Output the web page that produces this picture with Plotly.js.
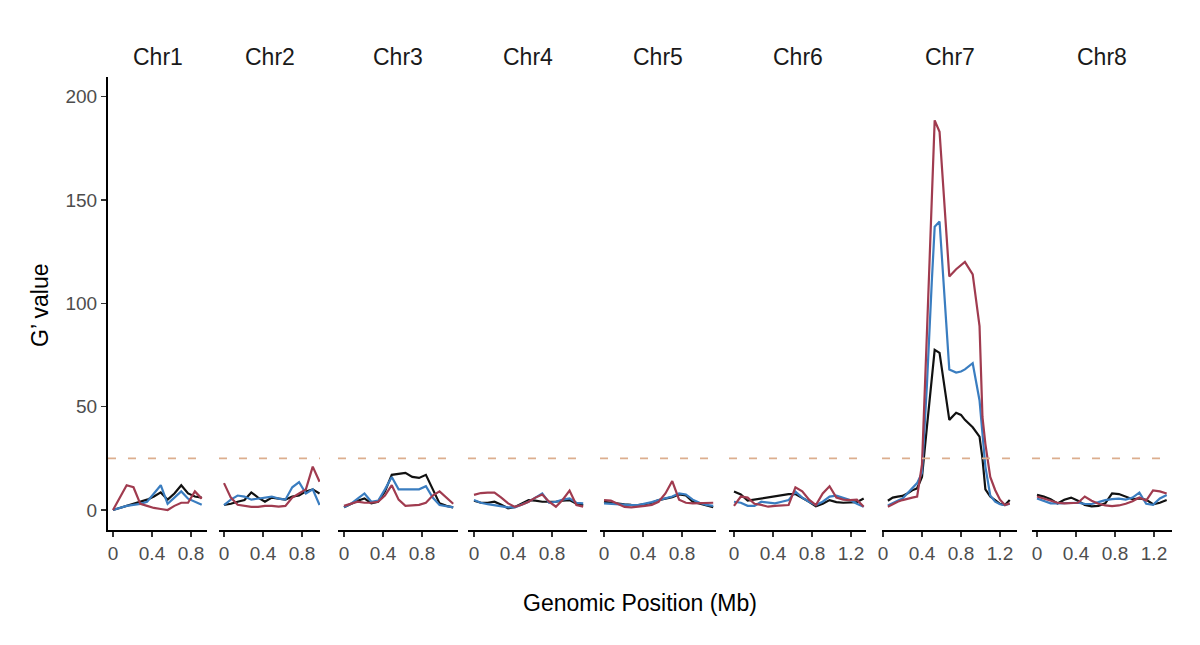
<!DOCTYPE html>
<html>
<head>
<meta charset="utf-8">
<script src="https://cdn.plot.ly/plotly-3.0.1.min.js"></script>
<style>
  html, body { margin: 0; padding: 0; background: #fff; }
  #myDiv { width: 1200px; height: 645px; }
</style>
</head>
<body>
<div id="myDiv"></div>
<script>
// chromosome names and the G' threshold (dashed line)
var chrNames = ['Chr1', 'Chr2', 'Chr3', 'Chr4', 'Chr5', 'Chr6', 'Chr7', 'Chr8'];
var threshold = 25;
var tickValues = [0, 0.4, 0.8, 1.2];

// positions (Mb) per chromosome
var posChr1 = [0, 0.07, 0.14, 0.21, 0.28, 0.35, 0.42, 0.49, 0.56, 0.63, 0.70, 0.77, 0.84, 0.91];
var posChr2 = [0, 0.07, 0.14, 0.21, 0.28, 0.35, 0.42, 0.49, 0.56, 0.63, 0.70, 0.77, 0.84, 0.91, 0.98];
var posChr3 = [0, 0.07, 0.14, 0.21, 0.28, 0.35, 0.42, 0.49, 0.56, 0.63, 0.70, 0.77, 0.84, 0.91, 0.98, 1.05, 1.12];
var posChr4 = [0, 0.07, 0.14, 0.21, 0.28, 0.35, 0.42, 0.49, 0.56, 0.63, 0.70, 0.77, 0.84, 0.91, 0.98, 1.05, 1.12];
var posChr5 = [0, 0.07, 0.14, 0.21, 0.28, 0.35, 0.42, 0.49, 0.56, 0.63, 0.70, 0.77, 0.84, 0.91, 0.98, 1.05, 1.12];
var posChr6 = [0, 0.07, 0.14, 0.21, 0.28, 0.35, 0.42, 0.49, 0.56, 0.63, 0.70, 0.77, 0.84, 0.91, 0.98, 1.05, 1.12, 1.19, 1.26, 1.33];
var posChr7 = [0.05, 0.10, 0.15, 0.20, 0.25, 0.30, 0.35, 0.40, 0.45, 0.50, 0.53, 0.58, 0.65, 0.68, 0.75, 0.80, 0.84, 0.92, 0.99, 1.02, 1.05, 1.10, 1.15, 1.20, 1.25, 1.30];
var posChr8 = [0, 0.07, 0.14, 0.21, 0.28, 0.35, 0.42, 0.49, 0.56, 0.63, 0.70, 0.77, 0.84, 0.91, 0.98, 1.05, 1.12, 1.19, 1.26, 1.33];

// black series
var blackChr1 = [0, 1, 2, 3, 4, 5, 6.5, 8.5, 5, 8, 12, 8, 6.5, 6];
var blackChr2 = [2.4, 3, 4, 4.8, 8.5, 6, 4, 6, 5.5, 5, 6.5, 7, 9, 10, 8];
var blackChr3 = [1.3, 3, 4.5, 5.6, 3.2, 4, 9, 17, 17.5, 18, 16, 15.5, 17, 10, 3.2, 2, 1.3];
var blackChr4 = [4.5, 3.5, 3.5, 4, 2.5, 0.8, 1.5, 3, 4.8, 4.5, 4, 4, 4, 4.5, 4.8, 3, 2.4];
var blackChr5 = [4, 3.5, 3, 2.7, 2.5, 2.4, 2.8, 3.5, 4.8, 5.5, 6.2, 7.5, 7, 4, 3, 2, 1.3];
var blackChr6 = [8.9, 7.5, 4.5, 5, 5.6, 6, 6.5, 7, 7.7, 7.7, 6, 4, 1.8, 3, 4.8, 3.8, 3.5, 3.5, 3.8, 5.6];
var blackChr7 = [4.5, 6, 6.5, 6.8, 8, 9.5, 10.5, 16, 40, 65, 77.5, 76, 52, 43.6, 47, 46, 43.6, 40, 35.5, 25, 10, 6.5, 4.8, 3, 2.4, 4.8];
var blackChr8 = [7.3, 6.5, 5.2, 3.2, 5, 6, 4.5, 2.4, 1.8, 2, 3.2, 8, 7.7, 6.5, 5.2, 5.6, 5, 2.8, 3.5, 4.8];

// blue series
var blueChr1 = [0, 1, 2, 2.5, 3, 4, 8, 12, 3, 6, 9, 5.5, 4, 2.5];
var blueChr2 = [2.4, 5, 7, 6.5, 5, 5.5, 6, 6.5, 5.5, 5, 11, 13.5, 8, 10, 2.4];
var blueChr3 = [1.3, 3, 5.5, 8, 4, 4.5, 10, 16, 10, 10, 10, 10, 11.5, 6, 2.4, 2, 1.3];
var blueChr4 = [4.8, 3.5, 2.8, 2.2, 1.8, 1.3, 1.3, 2.5, 4, 6, 8, 3.5, 4, 5, 5.6, 3.5, 3.2];
var blueChr5 = [3.2, 3, 2.5, 2.4, 2.4, 2.4, 3, 3.8, 4.8, 5.8, 6.5, 8, 7.5, 5, 3.5, 2.5, 2];
var blueChr6 = [4, 3.5, 2, 2, 4, 3.5, 3.2, 4, 4.8, 8.9, 6, 4, 2.4, 4, 6.5, 6.9, 6, 4.8, 3, 1.6];
var blueChr7 = [2.2, 3.5, 4.5, 5.5, 8, 10.5, 13, 18, 60, 110, 137, 139.6, 90, 68, 66.5, 67, 68, 71, 53, 35, 21, 7, 4, 2.8, 2.4, 3];
var blueChr8 = [5.6, 4.5, 3.2, 3.2, 3.2, 3.4, 3.5, 3, 2.9, 3.8, 4.8, 5.3, 5.5, 5, 6, 8.4, 3, 2.5, 5.6, 7.3];

// red series
var redChr1 = [0, 6, 12, 11, 3, 2, 1, 0.5, 0, 2, 3.5, 3.5, 9, 5.5];
var redChr2 = [13, 6, 2.5, 2, 1.5, 1.5, 2, 2, 1.6, 2, 6, 8, 10, 21, 13.7];
var redChr3 = [2, 3, 4, 3.5, 3.5, 4, 7, 12, 5, 2, 2.2, 2.5, 3.5, 7, 9, 6, 3];
var redChr4 = [7.3, 8.2, 8.4, 8.4, 6, 3.2, 1.5, 2.5, 4, 6, 7.5, 4, 1.6, 5, 9.4, 2.4, 1.6];
var redChr5 = [4.8, 4.5, 3, 1.5, 1.3, 1.5, 2, 2.5, 4, 8, 14, 5, 3.5, 3.2, 3.2, 3.3, 3.5];
var redChr6 = [2, 6.5, 6, 3, 2.5, 1.6, 2, 2.2, 2.4, 11, 9, 5, 2.4, 8, 11.5, 6, 5, 4.8, 5, 1.6];
var redChr7 = [1.6, 3, 4, 4.8, 5.5, 6, 6.5, 22, 85, 150, 188.5, 183, 134, 113, 116.5, 118.5, 120, 114, 89, 45, 32, 16, 9.7, 5, 2.4, 3.2];
var redChr8 = [6.5, 5.5, 4.8, 3.5, 3.2, 3.2, 3.5, 6.5, 4.5, 3, 2.2, 1.9, 2.2, 3, 4.2, 6, 4.5, 9.5, 9, 8];

var positions = [posChr1, posChr2, posChr3, posChr4, posChr5, posChr6, posChr7, posChr8];
var blackVals = [blackChr1, blackChr2, blackChr3, blackChr4, blackChr5, blackChr6, blackChr7, blackChr8];
var blueVals = [blueChr1, blueChr2, blueChr3, blueChr4, blueChr5, blueChr6, blueChr7, blueChr8];
var redVals = [redChr1, redChr2, redChr3, redChr4, redChr5, redChr6, redChr7, redChr8];

// panel layout in pixels: left edge, right edge, where x = 0 sits
var W = 1200, H = 645;
var pxPerMb = 97.5;
var panelLeft = [108, 219, 338, 468, 600, 729, 882, 1032];
var panelRight = [207, 320, 458, 587, 716, 866, 1017, 1172];
var panelZero = [113, 224, 344, 474, 604, 734, 883, 1037];
var plotTop = 77, plotBottom = 530, yZero = 510, pxPerUnit = 2.067;

var font = 'Liberation Sans, Arial, sans-serif';
var data = [];
var shapes = [];
var annotations = [];
var layout = {
    width: W,
    height: H,
    margin: {l: 0, r: 0, t: 0, b: 0},
    paper_bgcolor: '#fff',
    plot_bgcolor: 'rgba(0,0,0,0)',
    showlegend: false,
    font: {family: font}
};

layout.yaxis = {
    domain: [(H - plotBottom) / H, (H - plotTop) / H],
    range: [(yZero - plotBottom) / pxPerUnit, (yZero - plotTop) / pxPerUnit],
    anchor: 'x',
    tickvals: [0, 50, 100, 150, 200],
    showline: true,
    linecolor: '#000',
    linewidth: 2,
    ticks: 'outside',
    ticklen: 5,
    tickwidth: 1.5,
    tickcolor: '#333',
    tickfont: {size: 19, color: '#4d4d4d', family: font},
    showgrid: false,
    zeroline: false
};

for (let i = 0; i < chrNames.length; i++) {
    var ax = i === 0 ? 'x' : 'x' + (i + 1);
    var axKey = i === 0 ? 'xaxis' : 'xaxis' + (i + 1);
    var lo = (panelLeft[i] - panelZero[i]) / pxPerMb;
    var hi = (panelRight[i] - panelZero[i]) / pxPerMb;

    layout[axKey] = {
        domain: [panelLeft[i] / W, panelRight[i] / W],
        range: [lo, hi],
        anchor: 'y',
        tickvals: tickValues.filter(function (t) { return t <= hi; }),
        showline: true,
        linecolor: '#000',
        linewidth: 2,
        ticks: 'outside',
        ticklen: 5,
        tickwidth: 1.5,
        tickcolor: '#333',
        tickfont: {size: 19, color: '#4d4d4d', family: font},
        showgrid: false,
        zeroline: false
    };

    shapes.push({
        type: 'line', xref: ax, yref: 'y',
        x0: lo, x1: hi, y0: threshold, y1: threshold,
        line: {color: '#dcae8e', width: 1.6, dash: '8px,12px'}
    });

    data.push({type: 'scatter', mode: 'lines', x: positions[i], y: blackVals[i],
        xaxis: ax, yaxis: 'y', name: 'black', line: {color: '#111111', width: 2.2}});
    data.push({type: 'scatter', mode: 'lines', x: positions[i], y: blueVals[i],
        xaxis: ax, yaxis: 'y', name: 'blue', line: {color: '#3a7dc0', width: 2.2}});
    data.push({type: 'scatter', mode: 'lines', x: positions[i], y: redVals[i],
        xaxis: ax, yaxis: 'y', name: 'red', line: {color: '#a03b4f', width: 2.2}});

    annotations.push({
        xref: 'paper', yref: 'paper', xanchor: 'center', yanchor: 'middle',
        x: (panelLeft[i] + panelRight[i]) / 2 / W, y: (H - 57) / H,
        text: chrNames[i], showarrow: false,
        font: {size: 23, color: '#1a1a1a', family: font}
    });
}

annotations.push({
    xref: 'paper', yref: 'paper', xanchor: 'center', yanchor: 'middle',
    x: 640 / W, y: (H - 603) / H,
    text: 'Genomic Position (Mb)', showarrow: false,
    font: {size: 23, color: '#000', family: font}
});
annotations.push({
    xref: 'paper', yref: 'paper', xanchor: 'center', yanchor: 'middle',
    x: 40 / W, y: (H - 305) / H,
    text: 'G’ value', showarrow: false, textangle: -90,
    font: {size: 23, color: '#000', family: font}
});

layout.shapes = shapes;
layout.annotations = annotations;

Plotly.newPlot('myDiv', data, layout, {displayModeBar: false, staticPlot: true});
</script>
</body>
</html>
